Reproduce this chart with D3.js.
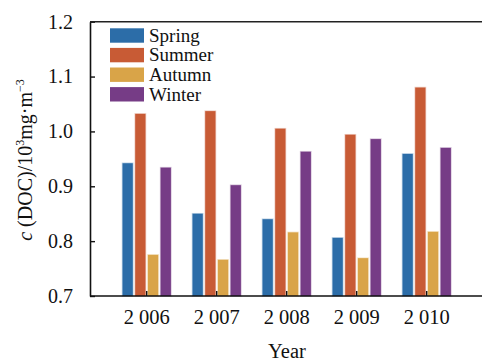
<!DOCTYPE html>
<html>
<head>
<meta charset="utf-8">
<script src="https://cdn.jsdelivr.net/npm/d3@7/dist/d3.min.js"></script>
<style>
  html, body { margin: 0; padding: 0; background: #fff; }
  svg text { font-family: "Liberation Serif", "DejaVu Serif", serif; }
</style>
</head>
<body>
<svg id="chart" width="482" height="361"></svg>
<script>
// Seasonal DOC concentration by year
const years = ["2 006", "2 007", "2 008", "2 009", "2 010"];
const seasons = ["Spring", "Summer", "Autumn", "Winter"];
const spring = [0.942, 0.850, 0.840, 0.806, 0.959];
const summer = [1.032, 1.037, 1.005, 0.994, 1.080];
const autumn = [0.775, 0.766, 0.816, 0.769, 0.817];
const winter = [0.934, 0.902, 0.963, 0.986, 0.970];
const yTicks = [0.7, 0.8, 0.9, 1.0, 1.1, 1.2];
const colors = ["#2C6DA8", "#C85B35", "#D9A448", "#763C86"];

const seriesValues = [spring, summer, autumn, winter];
const serif = "Liberation Serif";

const svg = d3.select("#chart");
const plotLeft = 90, plotRight = 482, plotTop = 21.7, plotBottom = 296;

const x = d3.scaleBand().domain(years).range([111.7, 461.7]).padding(0);
const xs = d3.scaleBand().domain(seasons).range([-25.4, 25.4])
  .paddingInner(0.19).paddingOuter(0.095);
const y = d3.scaleLinear().domain([0.7, 1.2]).range([plotBottom, plotTop]);

// bars
const groups = svg.append("g").selectAll("g")
  .data(years)
  .join("g")
  .attr("transform", d => `translate(${x(d) + x.bandwidth() / 2},0)`);

groups.selectAll("rect")
  .data((d, i) => seasons.map((s, k) => ({ s, v: seriesValues[k][i], c: colors[k] })))
  .join("rect")
  .attr("x", d => xs(d.s))
  .attr("width", xs.bandwidth())
  .attr("y", d => y(d.v))
  .attr("height", d => y(0.7) - y(d.v))
  .attr("fill", d => d.c)
  .attr("stroke", d => d.c)
  .attr("stroke-opacity", 0.3)
  .attr("stroke-width", 1.5);

// y axis (ticks inward)
const yAxis = svg.append("g")
  .attr("transform", `translate(${plotLeft},0)`)
  .call(d3.axisLeft(y).tickValues(yTicks).tickFormat(d3.format(".1f")).tickSizeInner(-5).tickSizeOuter(0).tickPadding(17));
yAxis.attr("font-family", serif);
yAxis.select(".domain").attr("stroke", "#111").attr("stroke-width", 1.6);
yAxis.selectAll(".tick line").attr("stroke", "#111").attr("stroke-width", 1.4);
yAxis.selectAll(".tick text").attr("font-size", "20px").attr("fill", "#111")
  .style("font-family", serif);

// x axis (ticks inward)
const xAxis = svg.append("g")
  .attr("transform", `translate(0,${plotBottom})`)
  .call(d3.axisBottom(x).tickSizeInner(-5).tickSizeOuter(0).tickPadding(13));
xAxis.attr("font-family", serif);
xAxis.select(".domain").attr("d", `M${plotLeft},0H${plotRight}`).attr("stroke", "#111").attr("stroke-width", 1.6);
xAxis.selectAll(".tick line").attr("stroke", "#111").attr("stroke-width", 1.4);
xAxis.selectAll(".tick text").attr("font-size", "20.5px").attr("fill", "#111")
  .style("font-family", serif);

// top frame line
svg.append("line")
  .attr("x1", plotLeft).attr("x2", plotRight).attr("y1", plotTop).attr("y2", plotTop)
  .attr("stroke", "#222").attr("stroke-width", 1.6);

// axis titles
svg.append("text")
  .attr("x", 287).attr("y", 358)
  .attr("text-anchor", "middle")
  .attr("font-size", "20.5px").attr("fill", "#111")
  .style("font-family", serif)
  .text("Year");

const yt = svg.append("text")
  .attr("transform", "translate(32,160) rotate(-90)")
  .attr("text-anchor", "middle")
  .attr("font-size", "20px").attr("fill", "#111")
  .style("font-family", serif);
yt.append("tspan").attr("font-style", "italic").text("c");
yt.append("tspan").text(" (DOC)/10");
yt.append("tspan").attr("font-size", "12px").attr("dy", -8).text("3");
yt.append("tspan").attr("dy", 8).text("mg·m");
yt.append("tspan").attr("font-size", "12px").attr("dy", -8).text("−3");

// legend
const legend = svg.append("g").selectAll("g")
  .data(seasons)
  .join("g")
  .attr("transform", (d, i) => `translate(110,${28.3 + i * 19.6})`);
legend.append("rect")
  .attr("width", 34).attr("height", 14.4)
  .attr("fill", (d, i) => colors[i]);
legend.append("text")
  .attr("x", 39).attr("y", 13.4)
  .attr("font-size", "19px").attr("fill", "#111")
  .style("font-family", serif)
  .text(d => d);
</script>
</body>
</html>
